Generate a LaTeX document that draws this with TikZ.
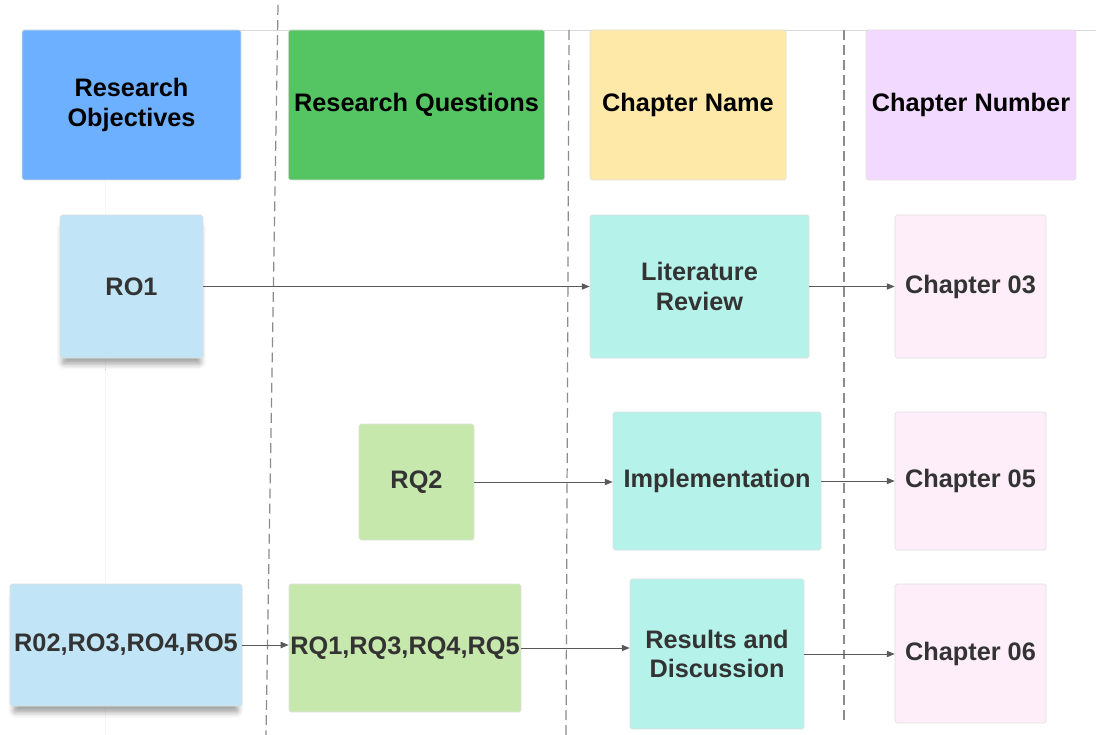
\documentclass[tikz,border=0pt]{standalone}
\usepackage{fontspec}
\setmainfont{Liberation Sans}
\usepackage{tikz}
\usetikzlibrary{arrows.meta,shadows.blur}

\definecolor{roblue}{HTML}{6DB0FF}
\definecolor{rqgreen}{HTML}{55C463}
\definecolor{cnyellow}{HTML}{FFE9A8}
\definecolor{chviolet}{HTML}{F1D9FF}
\definecolor{rolight}{HTML}{C1E4F6}
\definecolor{rqlight}{HTML}{C7E8AC}
\definecolor{cnteal}{HTML}{B5F3EA}
\definecolor{chpink}{HTML}{FDEEFA}
\definecolor{txtgray}{HTML}{333333}

\tikzset{
  box/.style={rectangle, rounded corners=1pt, draw=black!12, line width=0.4pt, align=center,
    font=\fontsize{14.4}{17}\selectfont\bfseries, text=txtgray},
  headbox/.style={box, text=black, minimum height=3cm},
  note/.style={box, blur shadow={shadow xshift=0pt, shadow yshift=-5pt, shadow blur radius=3pt, shadow opacity=35,
    shadow scale=0.97}},
  link/.style={draw=black!65, line width=0.5pt, -{Triangle[length=4.5pt,width=3.6pt]}},
  lane/.style={draw=black!45, line width=0.7pt, dash pattern=on 5.6pt off 3pt}
}

\begin{document}
\begin{tikzpicture}
      \useasboundingbox (0,0) rectangle (21.92,-14.7);
      \draw[black!15, line width=0.4pt] (0.44,-0.6)--(21.92,-0.6); \draw[black!3, line width=0.4pt] (2.1,-3.6)--(2.1,-14.7);
      \foreach \xa/\ya/\xb/\yb in {5.56/-0.1/5.32/-14.7, 11.38/-0.6/11.32/-14.7, 16.88/-0.6/16.88/-14.44} { \draw[lane]
      (\xa,\ya)--(\xb,\yb); }

      \node[headbox, fill=roblue, minimum width=4.38cm] (rohead) at (2.63,-2.1) {Research\\Objectives};
      \node[headbox, fill=rqgreen, minimum width=5.06cm] (rqhead) at (8.33,-2.1) {Research Questions};
      \node[headbox, fill=cnyellow, minimum width=3.92cm] (cnhead) at (13.76,-2.1) {Chapter Name};
      \node[headbox, fill=chviolet, minimum width=4.16cm] (chhead) at (19.42,-2.1) {Chapter Number};

      \node[note, fill=rolight, minimum width=2.86cm, minimum height=2.86cm] (ro1) at (2.63,-5.73) {RO1};
      \node[box, fill=cnteal, minimum width=4.38cm, minimum height=2.86cm] (litrev) at (13.99,-5.73) {Literature\\Review};
      \node[box, fill=chpink, minimum width=3.02cm, minimum height=2.86cm] (ch03) at (19.41,-5.73) {Chapter 03};

      \node[box, fill=rqlight, minimum width=2.30cm, minimum height=2.32cm] (rq2) at (8.33,-9.64) {RQ2};
      \node[box, fill=cnteal, minimum width=4.16cm, minimum height=2.76cm] (impl) at (14.34,-9.62) {Implementation};
      \node[box, fill=chpink, minimum width=3.02cm, minimum height=2.76cm] (ch05) at (19.41,-9.62) {Chapter 05};

      \node[note, fill=rolight, minimum width=4.64cm, minimum height=2.44cm, inner sep=0pt] (ro25) at (2.52,-12.90)
      {R02,RO3,RO4,RO5};
      \node[box, fill=rqlight, minimum width=4.64cm, minimum height=2.56cm, inner sep=0pt] (rq135) at (8.10,-12.96)
      {RQ1,RQ3,RQ4,RQ5};
      \node[box, fill=cnteal, minimum width=3.48cm, minimum height=3.0cm] (res) at (14.34,-13.08) {Results and\\Discussion};
      \node[box, fill=chpink, minimum width=3.02cm, minimum height=2.78cm] (ch06) at (19.41,-13.07) {Chapter 06};

      \draw[link] (ro1) -- (litrev); \draw[link] (litrev) -- (ch03);
      \draw[link] (rq2.east) -- (rq2.east -| impl.west); \draw[link] (impl) -- (ch05);
      \draw[link] (ro25.east) -- (ro25.east -| rq135.west); \draw[link] (rq135.east) -- (rq135.east -| res.west);
      \draw[link] (res.east) -- (res.east -| ch06.west);
    \end{tikzpicture}
\end{document}
